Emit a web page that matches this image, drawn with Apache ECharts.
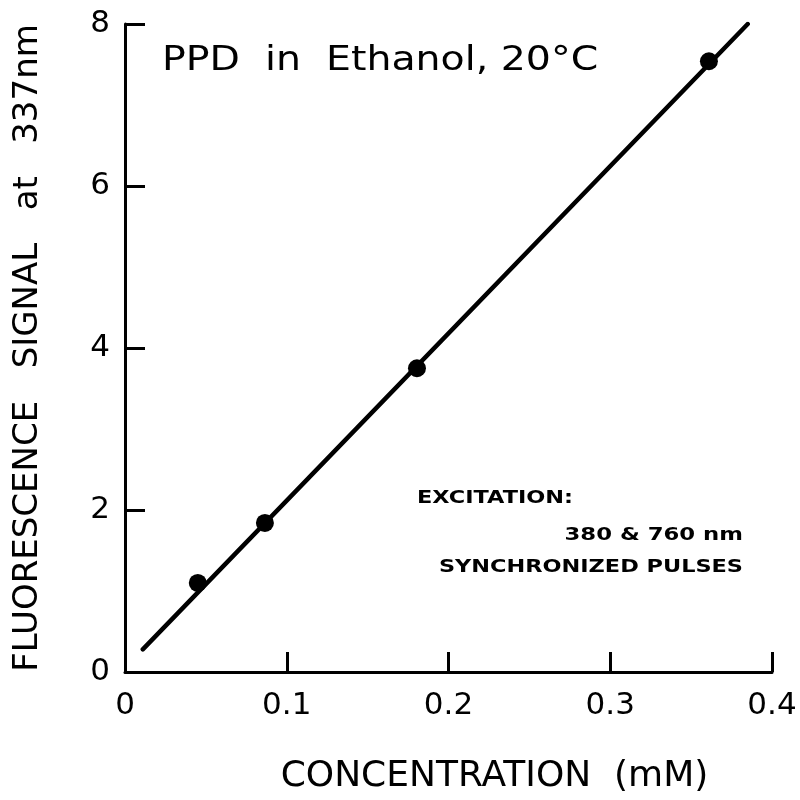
<!DOCTYPE html>
<html>
<head>
<meta charset="utf-8">
<script src="https://cdn.jsdelivr.net/npm/echarts@6/dist/echarts.min.js"></script>
<style>html,body{margin:0;padding:0;background:#fff;}#chart{width:800px;height:800px;}</style>
</head>
<body>
<div id="chart"></div>
<script>
// Data
const concentration = [0.045, 0.0865, 0.1805, 0.361];
const signal = [1.10, 1.84, 3.75, 7.54];
const fitLineX = [0.011, 0.385];
const fitLineY = [0.28, 8.0];
const xTicks = [0, 0.1, 0.2, 0.3, 0.4];
const yTicks = [0, 2, 4, 6, 8];
const xTitle = 'CONCENTRATION  (mM)';
const yTitle = 'FLUORESCENCE   SIGNAL   at   337nm';
const noteTitle = 'PPD  in  Ethanol, 20°C';
const noteLines = ['EXCITATION:', '380 & 760 nm', 'SYNCHRONIZED PULSES'];

const FONT = 'DejaVu Sans';
const INK = '#000';
const chart = echarts.init(document.getElementById('chart'), null, {renderer: 'canvas'});
const option = {
  animation: false,
  backgroundColor: '#ffffff',
  grid: {left: 125, right: 28, top: 24, bottom: 128, containLabel: false, outerBoundsMode: 'none'},
  xAxis: {
    type: 'value', min: xTicks[0], max: xTicks[xTicks.length - 1], interval: 0.1,
    name: xTitle, nameLocation: 'middle', nameGap: 87,
    nameTextStyle: {fontFamily: FONT, fontSize: 36, color: INK, padding: [0, 0, 0, 92]},
    axisLine: {show: true, lineStyle: {color: INK, width: 3}},
    axisTick: {show: true, inside: true, length: 20, lineStyle: {color: INK, width: 3}},
    axisLabel: {margin: 18, fontFamily: FONT, fontSize: 31, color: INK,
      formatter: v => { const t = xTicks.find(a => Math.abs(a - v) < 1e-9); return t === undefined ? '' : String(t); }},
    splitLine: {show: false}
  },
  yAxis: {
    type: 'value', min: yTicks[0], max: yTicks[yTicks.length - 1], interval: 2,
    name: yTitle, nameLocation: 'middle', nameGap: 80,
    nameTextStyle: {fontFamily: FONT, fontSize: 34, color: INK},
    axisLine: {show: true, lineStyle: {color: INK, width: 3}},
    axisTick: {show: true, inside: true, length: 20, lineStyle: {color: INK, width: 3}},
    axisLabel: {margin: 15, fontFamily: FONT, fontSize: 31, color: INK},
    splitLine: {show: false}
  },
  series: [
    {
      type: 'line', data: fitLineX.map((x, i) => [x, fitLineY[i]]),
      showSymbol: false, symbol: 'none',
      lineStyle: {color: INK, width: 4.5, cap: 'round'}
    },
    {
      type: 'scatter', data: concentration.map((x, i) => [x, signal[i]]),
      symbol: 'circle', symbolSize: 18, itemStyle: {color: INK, opacity: 1}
    }
  ],
  graphic: [
    {type: 'text', x: 162, y: 61, scaleX: 1.16,
      style: {text: noteTitle, font: '34px "DejaVu Sans"', fill: INK, align: 'left', verticalAlign: 'middle'}},
    {type: 'text', x: 417, y: 498, scaleX: 1.28,
      style: {text: noteLines[0], font: 'bold 17.5px "DejaVu Sans"', fill: INK, align: 'left', verticalAlign: 'middle'}},
    {type: 'text', x: 743, y: 535, scaleX: 1.3,
      style: {text: noteLines[1], font: 'bold 17.5px "DejaVu Sans"', fill: INK, align: 'right', verticalAlign: 'middle'}},
    {type: 'text', x: 743, y: 567, scaleX: 1.28,
      style: {text: noteLines[2], font: 'bold 17.5px "DejaVu Sans"', fill: INK, align: 'right', verticalAlign: 'middle'}}
  ]
};
chart.setOption(option);
</script>
</body>
</html>
